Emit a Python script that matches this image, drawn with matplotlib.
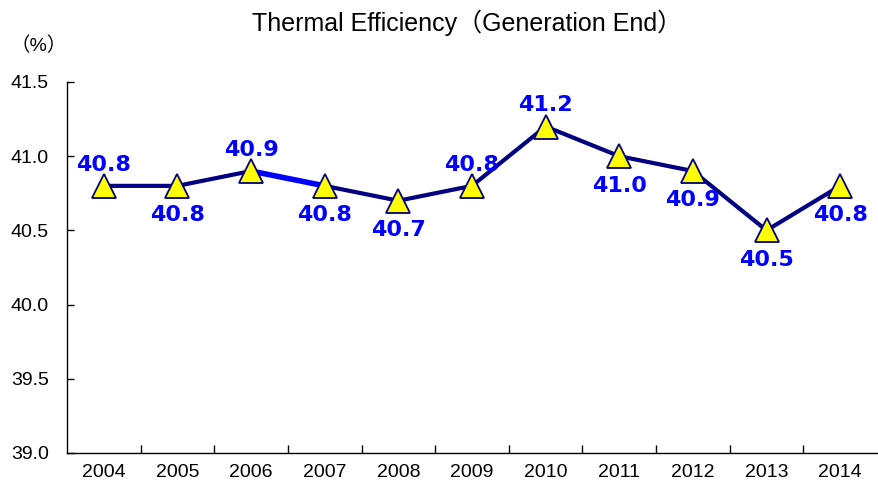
import numpy as np
import matplotlib
matplotlib.use("Agg")
import matplotlib.pyplot as plt

plt.rcParams["font.family"] = ["Liberation Sans", "Noto Sans CJK JP", "DejaVu Sans"]

# --- data ---
years = ["2004", "2005", "2006", "2007", "2008", "2009", "2010", "2011", "2012", "2013", "2014"]
efficiency = [40.8, 40.8, 40.9, 40.8, 40.7, 40.8, 41.2, 41.0, 40.9, 40.5, 40.8]
label_above = [True, False, True, False, False, True, True, False, False, False, False]

x = np.arange(len(years))

fig = plt.figure(figsize=(8.79, 4.96), dpi=100)
ax = fig.add_axes([0.0762, 0.0867, 0.9215, 0.748])

ax.plot(x, efficiency, color="#000080", lw=3, zorder=2)
# the 2006-2007 segment is drawn brighter in the original
ax.plot(x[2:4], efficiency[2:4], color="#0000FF", lw=4, zorder=2)
ax.plot(x, efficiency, ls="none", marker="^", ms=17, mfc="#FFFF00",
        mec="#000080", mew=1.3, zorder=3)

for xi, v, up in zip(x, efficiency, label_above):
    off = 8 if up else -14
    ax.annotate(f"{v:.1f}", (xi, v), textcoords="offset points", xytext=(0, off),
                ha="center", va="bottom" if up else "top", color="#0000FF",
                fontsize=16, fontweight="bold", family="DejaVu Sans", zorder=4)

ax.set_xlim(-0.5, len(years) - 0.5)
ax.set_ylim(39.0, 41.5)
ax.set_yticks(np.arange(39.0, 41.51, 0.5))
ax.set_yticklabels([f"{t:.1f}" for t in np.arange(39.0, 41.51, 0.5)], fontsize=14)
ax.tick_params(axis="y", direction="in", length=5, width=1, pad=13)

ax.set_xticks(x[:-1] + 0.5)
ax.set_xticklabels([])
ax.set_xticks(x, minor=True)
ax.set_xticklabels(years, minor=True, fontsize=14)
ax.tick_params(axis="x", which="major", direction="in", length=6, width=1)
ax.tick_params(axis="x", which="minor", length=0, pad=8)

for s in ["top", "right"]:
    ax.spines[s].set_visible(False)
ax.spines["left"].set_linewidth(1)
ax.spines["bottom"].set_linewidth(1)

fig.text(0.531, 0.955, "Thermal Efficiency（Generation End）", ha="center", va="center", fontsize=18)
fig.text(0.044, 0.908, "（%）", ha="center", va="center", fontsize=14)

fig.savefig("out.png", dpi=100)
